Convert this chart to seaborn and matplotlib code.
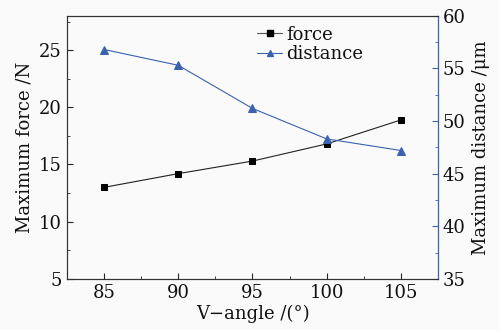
import pandas as pd
import seaborn as sns
import matplotlib.pyplot as plt
from matplotlib.ticker import MultipleLocator
from matplotlib.lines import Line2D

angle = [85, 90, 95, 100, 105]
force = [13.0, 14.2, 15.3, 16.8, 18.9]
distance = [56.8, 55.3, 51.2, 48.3, 47.2]

df = pd.DataFrame({"angle": angle, "force": force, "distance": distance})

sns.set_style("ticks")
plt.rcParams['font.family'] = ['DejaVu Serif']
plt.rcParams['mathtext.fontset'] = 'dejavuserif'
plt.rcParams['text.color'] = '#111111'
plt.rcParams['axes.labelcolor'] = '#111111'
blue = '#3a62b0'

fig, ax = plt.subplots(figsize=(4.99, 3.30), dpi=100)
fig.patch.set_facecolor('#fafafa')
ax.set_facecolor('#fafafa')
ax2 = ax.twinx()

sns.lineplot(data=df, x="angle", y="force", ax=ax, color='#222222', marker='s',
             markersize=5, linewidth=0.8, markeredgecolor='black', markerfacecolor='black')
sns.lineplot(data=df, x="angle", y="distance", ax=ax2, color=blue, marker='^',
             markersize=6, linewidth=0.8, markeredgecolor=blue, markerfacecolor=blue)

ax.set_xlim(82.5, 107.5)
ax.set_ylim(5, 28)
ax2.set_ylim(35, 60)
ax.xaxis.set_major_locator(MultipleLocator(5))
ax.xaxis.set_minor_locator(MultipleLocator(2.5))
ax.yaxis.set_major_locator(MultipleLocator(5))
ax.yaxis.set_minor_locator(MultipleLocator(2.5))
ax2.yaxis.set_major_locator(MultipleLocator(5))
ax2.yaxis.set_minor_locator(MultipleLocator(2.5))

ax.tick_params(which='both', direction='in', labelsize=13, top=False, labelcolor='#111111')
ax.tick_params(which='major', length=4)
ax.tick_params(which='minor', length=2.5)
ax2.tick_params(which='both', direction='in', labelsize=13, colors=blue, labelcolor='#111111')
ax2.tick_params(which='major', length=4)
ax2.tick_params(which='minor', length=2.5)
ax2.spines['right'].set_color(blue)
for sp in ['left', 'top', 'bottom']:
    ax.spines[sp].set_color('#333333')
    ax2.spines[sp].set_color('#333333')

ax.set_xlabel("V\u2212angle /(°)", fontsize=13, labelpad=2)
ax.set_ylabel("Maximum force /N", fontsize=13, labelpad=4)
ax2.set_ylabel("Maximum distance /μm", fontsize=13, labelpad=4)

handles = [Line2D([], [], color='#555555', marker='s', markersize=4, linewidth=0.8,
                  markerfacecolor='black', markeredgecolor='black'),
           Line2D([], [], color=blue, marker='^', markersize=5, linewidth=0.8,
                  markerfacecolor=blue, markeredgecolor=blue)]
ax2.legend(handles, ['force', 'distance'], loc='upper center', bbox_to_anchor=(0.655, 1.025),
           frameon=False, fontsize=13, handlelength=1.4, handletextpad=0.2,
           labelspacing=0.1)

fig.subplots_adjust(left=0.134, right=0.878, top=0.952, bottom=0.155)
fig.savefig("out.png", dpi=100, facecolor=fig.get_facecolor())
